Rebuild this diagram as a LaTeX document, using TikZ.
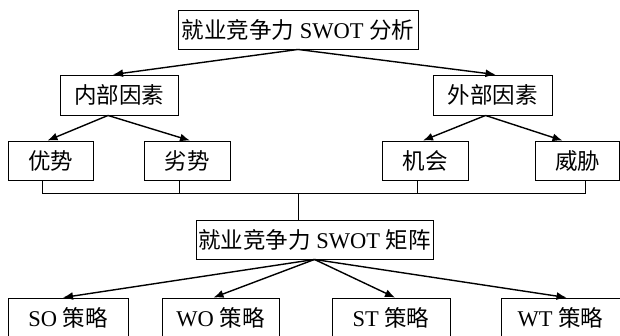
\documentclass[tikz,border=0pt]{standalone}
\usepackage{fontspec}
\setmainfont{Liberation Serif}
\newfontfamily\cjk{Noto Sans CJK SC}
\usepackage{tikz}
\usetikzlibrary{arrows.meta}
\tikzstyle{swotbox} = [draw=black, line width=0.9pt, fill=white,
    rectangle, inner sep=0pt, minimum height=39pt, font=\fontsize{22.5}{24}\selectfont]
\tikzstyle{pfeil} = [line width=1.4pt, -{Latex[length=10pt,width=8pt]}]
\tikzstyle{linie} = [line width=0.9pt]

\begin{document}
\begin{tikzpicture}[x=1pt, y=-1pt]
    \useasboundingbox (0,0) rectangle (620,335);
    % Analyse
    \node [swotbox, minimum width=240pt] (analyse) at (298,29.5) {{\cjk 就业竞争力} SWOT {\cjk 分析}};
    \node [swotbox, minimum width=118pt, minimum height=40pt] (intern) at (119,95) {\cjk 内部因素};
    \node [swotbox, minimum width=119pt, minimum height=40pt] (extern) at (492.5,95) {\cjk 外部因素};
    \node [swotbox, minimum width=85pt] (staerken) at (50.5,160.5) {\cjk 优势};
    \node [swotbox, minimum width=86pt] (schwaechen) at (187,160.5) {\cjk 劣势};
    \node [swotbox, minimum width=86pt] (chancen) at (425,160.5) {\cjk 机会};
    \node [swotbox, minimum width=84pt] (risiken) at (577.5,160.5) {\cjk 威胁};
    % Matrix
    \node [swotbox, minimum width=237pt] (matrix) at (314.5,239.5) {{\cjk 就业竞争力} SWOT {\cjk 矩阵}};
    \node [swotbox, minimum width=120pt] (so) at (68,317.5) {SO {\cjk 策略}};
    \node [swotbox, minimum width=117pt] (wo) at (220.5,317.5) {WO {\cjk 策略}};
    \node [swotbox, minimum width=118pt] (st) at (391,317.5) {ST {\cjk 策略}};
    \node [swotbox, minimum width=119pt] (wt) at (560.5,317.5) {WT {\cjk 策略}};

    \draw [pfeil] (analyse.south) -- ([xshift=-6pt]intern.north);
    \draw [pfeil] (analyse.south) -- ([xshift=3pt]extern.north);
    \draw [pfeil] ([xshift=-11pt]intern.south) -- ([xshift=-3pt]staerken.north);
    \draw [pfeil] ([xshift=-11pt]intern.south) -- ([xshift=3pt]schwaechen.north);
    \draw [pfeil] ([xshift=-7pt]extern.south) -- ([xshift=-2pt]chancen.north);
    \draw [pfeil] ([xshift=-7pt]extern.south) -- ([xshift=-15pt]risiken.north);

    \coordinate (bus) at (298,193);
    \draw [linie] ([xshift=-8pt]staerken.south) |- (bus);
    \draw [linie] ([xshift=-8pt]schwaechen.south) |- (bus);
    \draw [linie] ([xshift=-8pt]chancen.south) |- (bus);
    \draw [linie] ([xshift=8pt]risiken.south) |- (bus);
    \draw [linie] (bus) -- (bus |- matrix.north);

    \draw [pfeil] (matrix.south) -- ([xshift=-5pt]so.north);
    \draw [pfeil] (matrix.south) -- ([xshift=-7pt]wo.north);
    \draw [pfeil] (matrix.south) -- ([xshift=4pt]st.north);
    \draw [pfeil] (matrix.south) -- ([xshift=6pt]wt.north);
\end{tikzpicture}
\end{document}
